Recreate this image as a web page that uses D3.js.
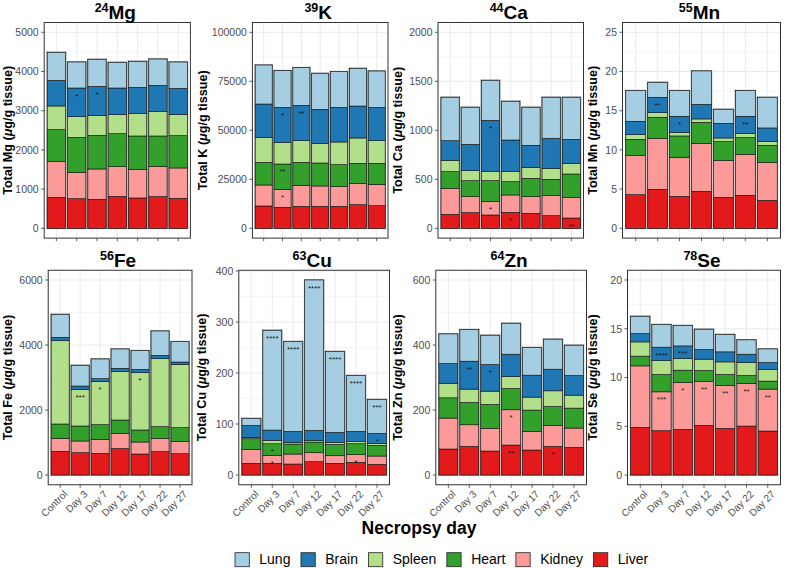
<!DOCTYPE html>
<html><head><meta charset="utf-8">
<script src="https://cdn.jsdelivr.net/npm/d3@7"></script>
<style>
html,body{margin:0;padding:0;background:#fff;}
svg text{font-family:"Liberation Sans",Arial,Helvetica,sans-serif;}
</style></head>
<body><svg id="chart" width="786" height="568"></svg>
<script>
// ---------- DATA ----------
const days = ["Control","Day 3","Day 7","Day 12","Day 17","Day 22","Day 27"];
const organs = ["Liver","Kidney","Heart","Spleen","Brain","Lung"]; // stack order bottom -> top
const legendOrder = ["Lung","Brain","Spleen","Heart","Kidney","Liver"];
const organColors = ["#E31A1C","#FB9A99","#33A02C","#B2DF8A","#1F78B4","#A6CEE3"];

// each row: one day, values in organ order [Liver, Kidney, Heart, Spleen, Brain, Lung]
const mg = [[790,910,816,604,654,714],[757,671,892,528,731,663],[740,773,859,510,739,689],[816,757,841,485,680,654],[774,731,850,569,672,663],[808,773,774,629,663,671],[765,774,824,544,663,672]];
const k  = [[11390,10710,11560,12750,17000,19890],[10710,9180,12920,10880,18020,18700],[11220,10710,11730,11050,18020,19210],[11220,10370,11730,10030,17340,18360],[11220,10030,11220,11560,17680,18190],[12070,10710,10370,12920,16320,19210],[11560,10880,10710,11560,17000,18530]];
const ca = [[143,265,170,116,200,443],[160,163,163,102,269,378],[136,136,214,92,524,408],[163,177,136,102,323,395],[153,170,187,109,228,388],[129,204,167,112,306,419],[105,208,241,106,248,429]];
const mn = [[4.29,4.98,2.08,0.60,1.70,3.91],[4.97,6.51,2.68,0.59,1.96,1.91],[4.08,4.98,2.72,0.47,2.04,3.27],[4.72,6.12,2.68,0.43,1.87,4.25],[3.95,4.72,2.39,0.46,1.87,1.79],[4.21,5.23,2.13,0.51,2.21,3.27],[3.57,4.85,2.17,0.51,1.70,3.91]];
const fe = [[728,401,440,2563,105,707],[687,359,462,1129,101,637],[667,431,450,1323,92,606],[815,467,410,1498,92,595],[646,369,370,1764,102,574],[718,410,359,2092,103,749],[656,380,420,1949,72,626]];
const cu = [[22.9,27.4,20.8,2.7,23.5,13.6],[22.9,15.7,22.7,6.6,20.2,195.7],[21.5,19.6,19.6,3.3,21.5,176.2],[26.1,17.6,20.9,3.3,19.6,294.9],[22.9,14.9,22.3,3.9,19.6,158.5],[24.8,15.0,21.5,4.0,20.2,109.6],[20.9,16.3,20.9,3.9,19.6,66.5]];
const zn = [[79.9,95.2,62.4,44.1,61.4,91.1],[88.1,66.5,68.6,41.0,86.0,97.2],[73.7,69.6,73.8,40.9,81.9,90.1],[92.2,108.5,65.5,36.9,68.6,95.2],[76.8,57.3,65.6,39.9,67.6,85.0],[88.1,64.5,58.3,48.1,66.6,92.2],[85.0,59.4,61.4,39.9,60.4,93.2]];
const se = [[4.88,6.31,1.00,1.46,0.86,1.77],[4.54,3.99,1.78,1.43,1.37,2.32],[4.68,4.81,1.26,1.20,1.29,2.09],[5.09,4.50,1.13,1.16,0.99,2.08],[4.78,4.41,1.12,1.29,1.03,1.78],[5.02,4.37,0.82,1.33,0.85,1.47],[4.51,4.30,0.82,1.19,0.72,1.39]];

// significance stars: [day, organ, label]
const mgStars = [["Day 3","Brain","*"],["Day 7","Brain","*"]];
const kStars  = [["Day 3","Brain","*"],["Day 7","Brain","**"],["Day 3","Heart","**"],["Day 3","Kidney","*"]];
const caStars = [["Day 7","Brain","*"],["Day 7","Kidney","*"],["Day 12","Liver","*"],["Day 27","Liver","**"]];
const mnStars = [["Day 3","Brain","**"],["Day 7","Brain","*"],["Day 22","Brain","**"]];
const feStars = [["Day 3","Spleen","***"],["Day 7","Spleen","*"],["Day 17","Spleen","*"]];
const cuStars = [["Day 3","Lung","****"],["Day 7","Lung","****"],["Day 12","Lung","****"],["Day 17","Lung","****"],["Day 22","Lung","****"],["Day 27","Lung","***"],["Day 3","Heart","*"],["Day 3","Kidney","*"],["Day 22","Kidney","*"],["Day 27","Brain","*"]];
const znStars = [["Day 3","Brain","**"],["Day 7","Brain","*"],["Day 12","Kidney","*"],["Day 12","Liver","**"],["Day 22","Liver","*"]];
const seStars = [["Day 3","Brain","****"],["Day 3","Kidney","***"],["Day 7","Brain","***"],["Day 7","Kidney","*"],["Day 12","Kidney","**"],["Day 17","Kidney","**"],["Day 22","Kidney","**"],["Day 27","Kidney","**"]];

const elements = ["Mg","K","Ca","Mn","Fe","Cu","Zn","Se"];
const isotopes = ["24","39","44","55","56","63","64","78"];
const yLimits  = [5000,100000,2000,25,6000,null,600,20]; // null = data max
const yTickSteps = [1000,25000,500,5,2000,100,200,5];
const datasets = [mg,k,ca,mn,fe,cu,zn,se];
const starSets = [mgStars,kStars,caStars,mnStars,feStars,cuStars,znStars,seStars];

// ---------- LAYOUT ----------
const panelX = [[44.2,190.4],[252.4,388],[438,583.5],[622.5,780.5],[48.2,192],[238.8,389.5],[435.8,586.5],[627.5,780.5]];
const rowY = [[22.5,238.1],[270.25,484.75]];
const titleX = [7.3,202.3,397.3,592.3,7.3,201.7,397.3,592.3];

const svg = d3.select("#chart");
const tickCol = "#4D4D4D", borderCol = "#333333";

elements.forEach((el,pi)=>{
  const data = datasets[pi];
  const [x0,x1] = panelX[pi];
  const [y0,y1] = rowY[pi<4?0:1];
  const totals = data.map(r=>d3.sum(r));
  const M = yLimits[pi]==null ? d3.max(totals) : yLimits[pi];
  const y = d3.scaleLinear().domain([-0.05*M,1.05*M]).range([y1,y0]);
  const x = d3.scaleLinear().domain([0.4,7.6]).range([x0,x1]);
  const bw = (x(1.9)-x(1));
  const step = yTickSteps[pi];
  const ticks = d3.range(0, 1.05*M+1e-9, step).filter(v=>v<=1.05*M);
  const g = svg.append("g");
  // grid
  const minors = ticks.map(t=>t+step/2).filter(v=>v<1.05*M);
  g.selectAll(".mn").data(minors).join("line")
    .attr("x1",x0).attr("x2",x1).attr("y1",d=>y(d)).attr("y2",d=>y(d))
    .attr("stroke","#EBEBEB").attr("stroke-width",0.5);
  g.selectAll(".mj").data(ticks).join("line")
    .attr("x1",x0).attr("x2",x1).attr("y1",d=>y(d)).attr("y2",d=>y(d))
    .attr("stroke","#EBEBEB").attr("stroke-width",1);
  g.selectAll(".vg").data(days).join("line")
    .attr("x1",(d,i)=>x(i+1)).attr("x2",(d,i)=>x(i+1)).attr("y1",y0).attr("y2",y1)
    .attr("stroke","#EBEBEB").attr("stroke-width",1);
  // stacked bars
  const rows = data.map((r,i)=>{const o={day:days[i]}; organs.forEach((org,j)=>o[org]=r[j]); return o;});
  const series = d3.stack().keys(organs)(rows);
  // outer gray outline
  g.selectAll(".ol").data(totals).join("rect")
    .attr("x",(d,i)=>x(i+1)-bw/2).attr("width",bw)
    .attr("y",d=>y(d)).attr("height",d=>y(0)-y(d))
    .attr("fill","none").attr("stroke","#7a7a7a").attr("stroke-width",1.6);
  series.forEach((s,j)=>{
    g.selectAll(null).data(s).join("rect")
      .attr("x",(d,i)=>x(i+1)-bw/2).attr("width",bw)
      .attr("y",d=>y(d[1])).attr("height",d=>y(d[0])-y(d[1]))
      .attr("fill",organColors[j]).attr("stroke","#111").attr("stroke-width",0.6);
  });
  // stars
  starSets[pi].forEach(([day,org,lab])=>{
    const di = days.indexOf(day), oj = organs.indexOf(org);
    const top = series[oj][di][1];
    g.append("text").attr("x",x(di+1)).attr("y",y(top)+10.5)
      .attr("text-anchor","middle").attr("font-size",8).attr("fill","#1a1a1a").text(lab);
  });
  // border
  g.append("rect").attr("x",x0).attr("y",y0).attr("width",x1-x0).attr("height",y1-y0)
    .attr("fill","none").attr("stroke",borderCol).attr("stroke-width",1);
  // y ticks
  g.selectAll(".yt").data(ticks).join("line")
    .attr("x1",x0-3).attr("x2",x0).attr("y1",d=>y(d)).attr("y2",d=>y(d))
    .attr("stroke",borderCol).attr("stroke-width",0.8);
  g.selectAll(".yl").data(ticks).join("text")
    .attr("x",x0-5.5).attr("y",d=>y(d)).attr("dy","0.36em")
    .attr("text-anchor","end").attr("font-size",10.5).attr("fill",tickCol).text(d=>d);
  // x ticks
  g.selectAll(".xt").data(days).join("line")
    .attr("x1",(d,i)=>x(i+1)).attr("x2",(d,i)=>x(i+1)).attr("y1",y1).attr("y2",y1+3)
    .attr("stroke",borderCol).attr("stroke-width",0.8);
  if(pi>=4){
    g.selectAll(".xl").data(days).join("text")
      .attr("transform",(d,i)=>`translate(${x(i+1)+3},${y1+5}) rotate(-45)`)
      .attr("dy","0.7em").attr("text-anchor","end").attr("font-size",10).attr("fill",tickCol).text(d=>d);
  }
  // y title
  const ty = g.append("text").attr("transform",`translate(${titleX[pi]+4.5},${(y0+y1)/2}) rotate(-90)`)
    .attr("text-anchor","middle").attr("font-size",12.6).attr("font-weight","bold").attr("fill","#000");
  ty.append("tspan").text(`Total ${el} (`);
  ty.append("tspan").attr("font-style","italic").text("μ");
  ty.append("tspan").text("g/g tissue)");
  // panel title
  const tt = g.append("text").attr("x",(x0+x1)/2-2).attr("y",y0-3.5)
    .attr("text-anchor","middle").attr("font-weight","bold").attr("fill","#000");
  tt.append("tspan").attr("font-size",12.5).attr("dy",-7).text(isotopes[pi]);
  tt.append("tspan").attr("font-size",19).attr("dy",7).text(el);
});

// x axis title
svg.append("text").attr("x",419).attr("y",533.5).attr("text-anchor","middle")
  .attr("font-size",17.5).attr("font-weight","bold").attr("fill","#000").text("Necropsy day");

// legend
let lx = 235;
legendOrder.forEach(org=>{
  const c = organColors[organs.indexOf(org)];
  svg.append("rect").attr("x",lx).attr("y",552.7).attr("width",14.3).attr("height",14)
    .attr("fill",c).attr("stroke","#222").attr("stroke-width",0.8);
  const t = svg.append("text").attr("x",lx+24.3).attr("y",564.3).attr("font-size",14).attr("fill","#000").text(org);
  lx += 24.3 + t.node().getComputedTextLength() + 10.5;
});
</script></body></html>
